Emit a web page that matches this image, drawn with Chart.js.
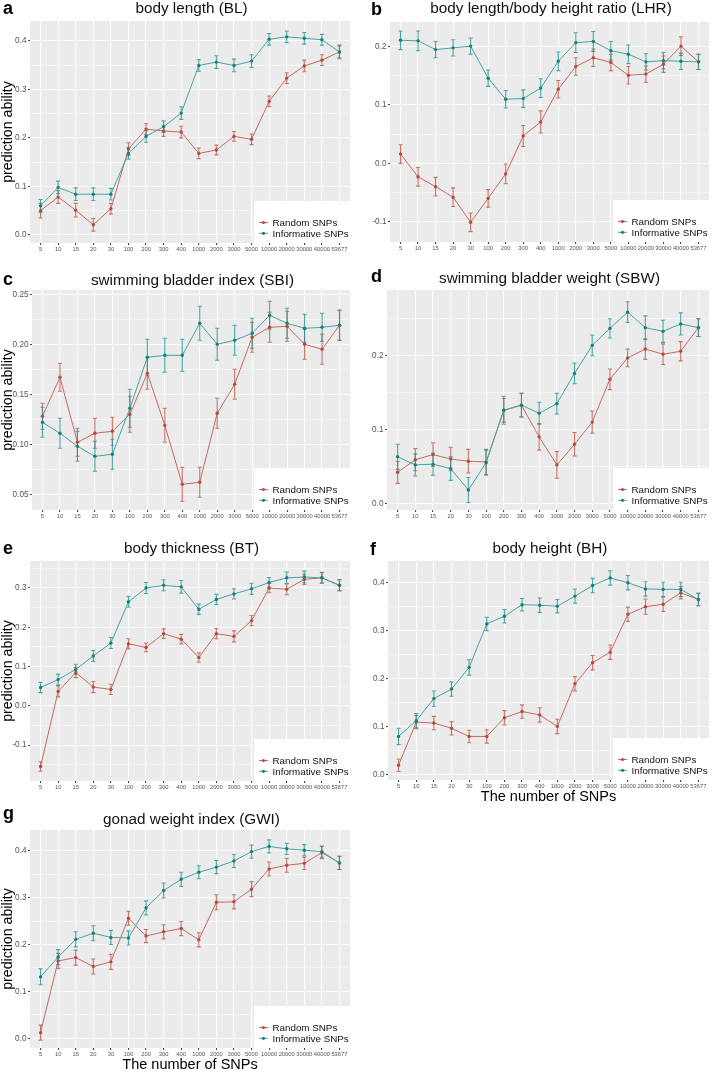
<!DOCTYPE html>
<html>
<head>
<meta charset="utf-8">
<script src="https://cdn.jsdelivr.net/npm/chart.js@4.4.1/dist/chart.umd.min.js"></script>
<style>
  body { margin: 0; background: #fff; width: 713px; height: 1073px; position: relative; overflow: hidden;
         font-family: 'Liberation Sans', Arial, sans-serif; }
  canvas { position: absolute; }
  .ttl { position: absolute; font-size: 15.3px; line-height: 16px; white-space: nowrap; transform: translateX(-50%); color: #111; }
  .lbl { position: absolute; font-size: 18px; font-weight: bold; line-height: 18px; color: #000; }
</style>
</head>
<body>
<script>
  // categories (number of SNPs)
  const snpCounts = ['5', '10', '15', '20', '30', '100', '200', '300', '400', '1000', '2000', '3000', '5000', '10000', '20000', '30000', '40000', '53677'];
  const seriesNames = ['Random SNPs', 'Informative SNPs'];

  // a - body length
  const blRandom = [0.050, 0.078, 0.051, 0.021, 0.054, 0.177, 0.218, 0.214, 0.212, 0.168, 0.175, 0.203, 0.197, 0.275, 0.323, 0.348, 0.360, 0.377];
  const blInform = [0.060, 0.098, 0.084, 0.084, 0.084, 0.168, 0.203, 0.223, 0.251, 0.349, 0.356, 0.349, 0.358, 0.403, 0.408, 0.405, 0.402, 0.377];
  const blRandomErr = [0.015, 0.013, 0.014, 0.013, 0.011, 0.013, 0.011, 0.011, 0.012, 0.011, 0.010, 0.010, 0.011, 0.011, 0.011, 0.012, 0.011, 0.012];
  const blInformErr = [0.013, 0.013, 0.013, 0.013, 0.012, 0.012, 0.012, 0.012, 0.013, 0.012, 0.013, 0.013, 0.013, 0.012, 0.012, 0.012, 0.011, 0.014];

  // b - body length / body height ratio
  const lhrRandom = [0.016, -0.023, -0.040, -0.058, -0.101, -0.060, -0.018, 0.047, 0.071, 0.127, 0.166, 0.181, 0.173, 0.151, 0.153, 0.170, 0.201, 0.174];
  const lhrInform = [0.211, 0.210, 0.195, 0.198, 0.201, 0.146, 0.110, 0.111, 0.129, 0.175, 0.207, 0.209, 0.193, 0.187, 0.174, 0.176, 0.175, 0.174];
  const lhrRandomErr = [0.016, 0.016, 0.016, 0.016, 0.016, 0.015, 0.017, 0.018, 0.019, 0.015, 0.015, 0.015, 0.014, 0.015, 0.014, 0.014, 0.016, 0.013];
  const lhrInformErr = [0.016, 0.017, 0.014, 0.014, 0.014, 0.014, 0.015, 0.015, 0.016, 0.016, 0.017, 0.017, 0.016, 0.016, 0.014, 0.014, 0.014, 0.013];

  // c - swimming bladder index
  const sbiRandom = [0.128, 0.167, 0.102, 0.111, 0.113, 0.130, 0.171, 0.119, 0.060, 0.062, 0.131, 0.160, 0.207, 0.217, 0.218, 0.200, 0.195, 0.219];
  const sbiInform = [0.122, 0.111, 0.098, 0.088, 0.090, 0.136, 0.187, 0.189, 0.189, 0.221, 0.200, 0.204, 0.211, 0.229, 0.221, 0.216, 0.217, 0.219];
  const sbiRandomErr = [0.013, 0.014, 0.014, 0.015, 0.014, 0.018, 0.016, 0.017, 0.017, 0.015, 0.015, 0.015, 0.015, 0.015, 0.015, 0.015, 0.015, 0.015];
  const sbiInformErr = [0.015, 0.015, 0.015, 0.015, 0.015, 0.019, 0.018, 0.017, 0.016, 0.017, 0.016, 0.015, 0.015, 0.014, 0.015, 0.014, 0.014, 0.015];

  // d - swimming bladder weight
  const sbwRandom = [0.042, 0.059, 0.066, 0.060, 0.057, 0.056, 0.126, 0.133, 0.090, 0.052, 0.080, 0.110, 0.168, 0.197, 0.209, 0.202, 0.206, 0.238];
  const sbwInform = [0.063, 0.052, 0.053, 0.047, 0.018, 0.055, 0.126, 0.133, 0.122, 0.135, 0.176, 0.214, 0.237, 0.259, 0.238, 0.233, 0.243, 0.238];
  const sbwRandomErr = [0.015, 0.015, 0.016, 0.016, 0.016, 0.017, 0.016, 0.016, 0.018, 0.018, 0.016, 0.015, 0.014, 0.012, 0.014, 0.014, 0.013, 0.012];
  const sbwInformErr = [0.017, 0.015, 0.015, 0.016, 0.017, 0.017, 0.019, 0.016, 0.015, 0.014, 0.014, 0.014, 0.013, 0.014, 0.016, 0.015, 0.015, 0.012];

  // e - body thickness
  const btRandom = [-0.154, 0.037, 0.085, 0.048, 0.042, 0.158, 0.149, 0.184, 0.170, 0.123, 0.184, 0.177, 0.217, 0.300, 0.297, 0.322, 0.326, 0.307];
  const btInform = [0.047, 0.067, 0.093, 0.127, 0.160, 0.265, 0.300, 0.307, 0.303, 0.246, 0.271, 0.285, 0.298, 0.314, 0.326, 0.328, 0.326, 0.307];
  const btRandomErr = [0.012, 0.014, 0.013, 0.014, 0.013, 0.013, 0.011, 0.012, 0.012, 0.012, 0.013, 0.014, 0.013, 0.012, 0.014, 0.013, 0.013, 0.014];
  const btInformErr = [0.013, 0.014, 0.013, 0.014, 0.014, 0.014, 0.014, 0.014, 0.016, 0.013, 0.013, 0.013, 0.014, 0.013, 0.015, 0.015, 0.014, 0.014];

  // f - body height
  const bhRandom = [0.019, 0.109, 0.107, 0.096, 0.079, 0.079, 0.118, 0.131, 0.124, 0.100, 0.189, 0.233, 0.255, 0.334, 0.350, 0.355, 0.379, 0.365];
  const bhInform = [0.079, 0.112, 0.158, 0.178, 0.223, 0.314, 0.330, 0.354, 0.353, 0.351, 0.372, 0.394, 0.410, 0.400, 0.387, 0.386, 0.386, 0.365];
  const bhRandomErr = [0.013, 0.014, 0.014, 0.014, 0.013, 0.014, 0.015, 0.014, 0.015, 0.015, 0.015, 0.015, 0.015, 0.015, 0.016, 0.015, 0.013, 0.013];
  const bhInformErr = [0.017, 0.015, 0.016, 0.015, 0.016, 0.014, 0.014, 0.013, 0.015, 0.014, 0.015, 0.015, 0.015, 0.015, 0.015, 0.015, 0.015, 0.013];

  // g - gonad weight index
  const gwiRandom = [0.012, 0.165, 0.172, 0.153, 0.163, 0.256, 0.218, 0.227, 0.234, 0.210, 0.290, 0.291, 0.318, 0.361, 0.369, 0.373, 0.396, 0.374];
  const gwiInform = [0.131, 0.173, 0.211, 0.224, 0.215, 0.214, 0.278, 0.315, 0.339, 0.354, 0.365, 0.378, 0.398, 0.409, 0.404, 0.401, 0.398, 0.374];
  const gwiRandomErr = [0.016, 0.016, 0.016, 0.016, 0.016, 0.015, 0.014, 0.015, 0.015, 0.015, 0.016, 0.015, 0.016, 0.015, 0.015, 0.013, 0.013, 0.014];
  const gwiInformErr = [0.017, 0.016, 0.016, 0.016, 0.015, 0.015, 0.015, 0.016, 0.015, 0.014, 0.014, 0.014, 0.014, 0.014, 0.012, 0.012, 0.012, 0.014];

  const RED = '#b9493d', RED_LINE = '#c76a5f', RED_ERR = 'rgba(190,90,78,0.85)';
  const TEAL = '#17807b', TEAL_LINE = '#45a6a6', TEAL_ERR = 'rgba(40,150,150,0.85)';
  const FONT = "'Liberation Sans', Arial, sans-serif";

  // layout: plot box [left, top, right, bottom] in page px, y range, tick step
  const panels = [
    { letter: 'a', title: 'body length (BL)', random: blRandom, inform: blInform, rErr: blRandomErr, iErr: blInformErr,
      cell: 0, box: [30, 21, 353, 243], yMin: -0.0165, yMax: 0.4406, major: 0.1, dec: 1, yTitle: true, xTitle: false,
      letterPos: [3, -1.2], titleTop: -0.5 },
    { letter: 'b', title: 'body length/body height ratio (LHR)', random: lhrRandom, inform: lhrInform, rErr: lhrRandomErr, iErr: lhrInformErr,
      cell: 356, box: [390, 22, 712, 242], yMin: -0.1348, yMax: 0.2423, major: 0.1, dec: 1, yTitle: false, xTitle: false,
      letterPos: [371, -0.5], titleTop: 0.2 },
    { letter: 'c', title: 'swimming bladder index (SBI)', random: sbiRandom, inform: sbiInform, rErr: sbiRandomErr, iErr: sbiInformErr,
      cell: 0, box: [32, 290, 353, 510], yMin: 0.0343, yMax: 0.2543, major: 0.05, dec: 2, yTitle: true, xTitle: false,
      letterPos: [3, 269.8], titleTop: 271.8 },
    { letter: 'd', title: 'swimming bladder weight (SBW)', random: sbwRandom, inform: sbwInform, rErr: sbwRandomErr, iErr: sbwInformErr,
      cell: 356, box: [387, 290, 712, 510], yMin: -0.0091, yMax: 0.289, major: 0.1, dec: 1, yTitle: false, xTitle: false,
      letterPos: [371, 267], titleTop: 270.2 },
    { letter: 'e', title: 'body thickness (BT)', random: btRandom, inform: btInform, rErr: btRandomErr, iErr: btInformErr,
      cell: 0, box: [30, 561, 353, 781], yMin: -0.191, yMax: 0.3688, major: 0.1, dec: 1, yTitle: true, xTitle: false,
      letterPos: [3, 538.8], titleTop: 540.2 },
    { letter: 'f', title: 'body height (BH)', random: bhRandom, inform: bhInform, rErr: bhRandomErr, iErr: bhInformErr,
      cell: 356, box: [388, 561, 712, 780], yMin: -0.0119, yMax: 0.4453, major: 0.1, dec: 1, yTitle: false, xTitle: true, xTitleY: 797.5,
      letterPos: [370, 539.8], titleTop: 540.2 },
    { letter: 'g', title: 'gonad weight index (GWI)', random: gwiRandom, inform: gwiInform, rErr: gwiRandomErr, iErr: gwiInformErr,
      cell: 0, box: [30, 830, 353, 1048], yMin: -0.0207, yMax: 0.4441, major: 0.1, dec: 1, yTitle: true, xTitle: true, xTitleY: 1065.5,
      letterPos: [3, 804], titleTop: 811.2 }
  ];

  const isMajor = (v, major) => Math.abs(v / major - Math.round(v / major)) < 1e-6;

  // gray panel background
  const panelBg = {
    id: 'panelBg',
    beforeDraw(chart) {
      const a = chart.chartArea, c = chart.ctx;
      c.save();
      c.fillStyle = '#ebebeb';
      c.fillRect(a.left, a.top, a.right - a.left, a.bottom - a.top);
      c.restore();
    }
  };

  // vertical error bars, drawn through the y scale
  const errorBars = {
    id: 'errorBars',
    beforeDatasetsDraw(chart) {
      const c = chart.ctx, ys = chart.scales.y;
      chart.data.datasets.forEach((ds, i) => {
        const meta = chart.getDatasetMeta(i);
        c.save();
        c.strokeStyle = ds.errColor;
        c.lineWidth = 1.1;
        meta.data.forEach((pt, j) => {
          const v = ds.data[j].y, e = ds.errors[j];
          const y1 = ys.getPixelForValue(v - e), y2 = ys.getPixelForValue(v + e);
          c.beginPath();
          c.moveTo(pt.x, y1); c.lineTo(pt.x, y2);
          c.moveTo(pt.x - 2, y1); c.lineTo(pt.x + 2, y1);
          c.moveTo(pt.x - 2, y2); c.lineTo(pt.x + 2, y2);
          c.stroke();
        });
        c.restore();
      });
    }
  };

  // ggplot-like legend box in the bottom-right corner of the panel
  const cornerLegend = {
    id: 'cornerLegend',
    afterDraw(chart) {
      const a = chart.chartArea, c = chart.ctx;
      const w = 96, h = 42, x = a.right - w, y = a.bottom - h;
      c.save();
      c.fillStyle = '#ffffff';
      c.fillRect(x, y, w, h);
      c.font = '9.8px ' + FONT;
      c.textBaseline = 'middle';
      const items = [[seriesNames[0], RED_LINE, RED], [seriesNames[1], TEAL_LINE, TEAL]];
      items.forEach(([name, lc, pc], k) => {
        const ry = a.bottom - 20.5 + k * 10.8;
        c.strokeStyle = lc; c.lineWidth = 1;
        c.beginPath(); c.moveTo(x + 5, ry); c.lineTo(x + 14, ry); c.stroke();
        c.fillStyle = pc;
        c.beginPath(); c.arc(x + 9.5, ry, 1.6, 0, Math.PI * 2); c.fill();
        c.fillStyle = '#111';
        c.fillText(name, x + 18.5, ry + 0.5);
      });
      c.restore();
    }
  };

  Chart.defaults.font.family = FONT;

  panels.forEach(p => {
    const [L, T, R, B] = p.box;
    const padTop = 8;
    const xH = p.xTitle ? (p.xTitleY - B + 8.5) : 13;
    const cv = document.createElement('canvas');
    const cw = R + 1 - p.cell, ch = (B + xH) - (T - padTop);
    cv.width = cw; cv.height = ch;
    cv.style.left = p.cell + 'px'; cv.style.top = (T - padTop) + 'px';
    cv.style.width = cw + 'px'; cv.style.height = ch + 'px';
    document.body.appendChild(cv);

    const ttl = document.createElement('div');
    ttl.className = 'ttl'; ttl.textContent = p.title;
    ttl.style.left = ((L + R) / 2) + 'px'; ttl.style.top = p.titleTop + 'px';
    document.body.appendChild(ttl);

    const lbl = document.createElement('div');
    lbl.className = 'lbl'; lbl.textContent = p.letter;
    lbl.style.left = p.letterPos[0] + 'px'; lbl.style.top = p.letterPos[1] + 'px';
    document.body.appendChild(lbl);

    const pts = arr => arr.map((v, i) => ({ x: i, y: v }));

    new Chart(cv, {
      type: 'line',
      data: {
        datasets: [
          { label: seriesNames[0], data: pts(p.random), errors: p.rErr, errColor: RED_ERR,
            borderColor: RED_LINE, borderWidth: 1, pointRadius: 1.7, pointBorderWidth: 0,
            pointBackgroundColor: RED, tension: 0, order: 2 },
          { label: seriesNames[1], data: pts(p.inform), errors: p.iErr, errColor: TEAL_ERR,
            borderColor: TEAL_LINE, borderWidth: 1, pointRadius: 1.7, pointBorderWidth: 0,
            pointBackgroundColor: TEAL, tension: 0, order: 1 }
        ]
      },
      options: {
        responsive: false,
        animation: false,
        layout: { padding: { top: padTop, right: 1, left: 0, bottom: 0 } },
        plugins: { legend: { display: false }, tooltip: { enabled: false } },
        scales: {
          x: {
            type: 'linear', min: -0.6, max: snpCounts.length - 0.4,
            afterFit: s => { s.height = xH; },
            border: { display: false },
            grid: { color: '#ffffff', lineWidth: 1.1, tickLength: 2, tickColor: '#444' },
            ticks: { stepSize: 1, includeBounds: false, autoSkip: false, maxRotation: 0, minRotation: 0,
                     padding: 1, color: '#555', font: { size: 5.8 },
                     callback: v => Number.isInteger(v) ? snpCounts[v] : '' },
            title: { display: p.xTitle, text: 'The number of SNPs', color: '#000', padding: 0,
                     font: { size: 14.5 } }
          },
          y: {
            min: p.yMin, max: p.yMax,
            afterFit: s => { s.width = L - p.cell; },
            border: { display: false },
            grid: {
              color: '#ffffff',
              lineWidth: ctx => isMajor(ctx.tick.value, p.major) ? 1.1 : 0.55,
              tickLength: 2,
              tickColor: ctx => isMajor(ctx.tick.value, p.major) ? '#444' : 'rgba(0,0,0,0)'
            },
            ticks: { stepSize: p.major / 2, includeBounds: false, padding: 1.5, color: '#555', font: { size: 8.2 },
                     callback: v => isMajor(v, p.major) ? (Math.abs(v) < 1e-9 ? 0 : v).toFixed(p.dec) : '' },
            title: { display: p.yTitle, text: 'prediction ability', color: '#000', padding: { top: 0 },
                     font: { size: 14.2 } }
          }
        }
      },
      plugins: [panelBg, errorBars, cornerLegend]
    });
  });
</script>
</body>
</html>
